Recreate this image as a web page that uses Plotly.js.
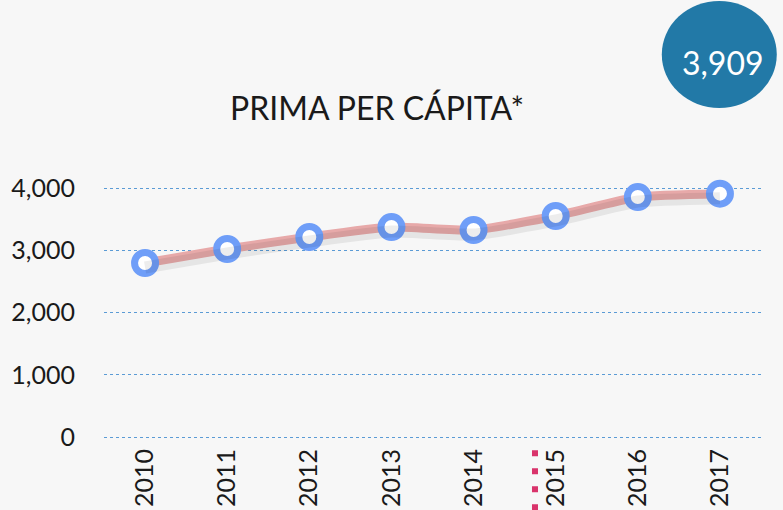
<!DOCTYPE html>
<html>
<head>
<meta charset="utf-8">
<script src="https://cdn.plot.ly/plotly-3.0.1.min.js"></script>
<style>html,body{margin:0;padding:0;background:#f7f7f7;}#chart{width:783px;height:510px;}</style>
</head>
<body>
<div id="chart"></div>
<script>
const years = ['2010','2011','2012','2013','2014','2015','2016','2017'];
const primaPerCapita = [2795, 3020, 3213, 3373, 3325, 3550, 3855, 3909];
const yTicks = [0, 1000, 2000, 3000, 4000];
const yTickLabels = ['0', '1,000', '2,000', '3,000', '4,000'];
const chartTitle = 'PRIMA PER CÁPITA*';
const badgeLabel = '3,909';

const FONT = 'Lato, "Open Sans", sans-serif';

const shadow = {
  x: years, y: primaPerCapita, yaxis: 'y2', type: 'scatter', mode: 'lines',
  line: {color: 'rgba(0,0,0,0.07)', width: 12, shape: 'spline', smoothing: 0.5},
  hoverinfo: 'skip', showlegend: false, cliponaxis: false
};
const line = {
  x: years, y: primaPerCapita, type: 'scatter', mode: 'lines',
  line: {color: '#e7a9a9', width: 9, shape: 'spline', smoothing: 0.5},
  showlegend: false, cliponaxis: false
};
const markers = {
  x: years, y: primaPerCapita, type: 'scatter', mode: 'markers',
  marker: {size: 21, color: '#ffffff', line: {color: '#6f9ef8', width: 7}},
  showlegend: false, cliponaxis: false
};

const layout = {
  width: 783, height: 510,
  margin: {l: 104, r: 22, t: 185, b: 70},
  paper_bgcolor: '#f7f7f7', plot_bgcolor: '#f7f7f7',
  font: {family: FONT, color: '#1a1a1a'},
  xaxis: {
    type: 'category', range: [-0.5, 7.5], showgrid: false, zeroline: false,
    showline: false, ticks: '', tickangle: -90,
    tickfont: {size: 25, family: FONT, color: '#1a1a1a'}, ticklabelstandoff: 3
  },
  yaxis: {
    range: [-48.2, 4048.2], tickvals: yTicks, ticktext: yTickLabels,
    showgrid: true, gridcolor: '#5b9bd5', griddash: 'dot', gridwidth: 1,
    zeroline: false, showline: false, ticks: '',
    tickfont: {size: 25, family: FONT, color: '#1a1a1a'}, ticklabelstandoff: 28
  },
  yaxis2: {overlaying: 'y', range: [-48.2 + 72, 4048.2 + 72], visible: false},
  shapes: [
    {type: 'circle', xref: 'paper', yref: 'paper', x0: 0.849, x1: 1.024, y0: 1.302, y1: 1.722,
     fillcolor: '#2279a7', line: {width: 0}, layer: 'above'},
    {type: 'line', xref: 'paper', yref: 'paper', x0: 0.656, x1: 0.656, y0: -0.04, y1: -0.30,
     line: {color: '#d9336b', width: 6, dash: '6px,12px'}}
  ],
  annotations: [
    {text: chartTitle, xref: 'paper', yref: 'paper', x: 0.415, y: 1.305, xanchor: 'center', yanchor: 'middle',
     showarrow: false, font: {size: 32, family: FONT, color: '#1a1a1a'}},
    {text: badgeLabel, xref: 'paper', yref: 'paper', x: 0.942, y: 1.482, xanchor: 'center', yanchor: 'middle',
     showarrow: false, font: {size: 32, family: FONT, color: '#ffffff'}}
  ]
};

Plotly.newPlot('chart', [shadow, line, markers], layout, {displayModeBar: false, staticPlot: true});
</script>
</body>
</html>
